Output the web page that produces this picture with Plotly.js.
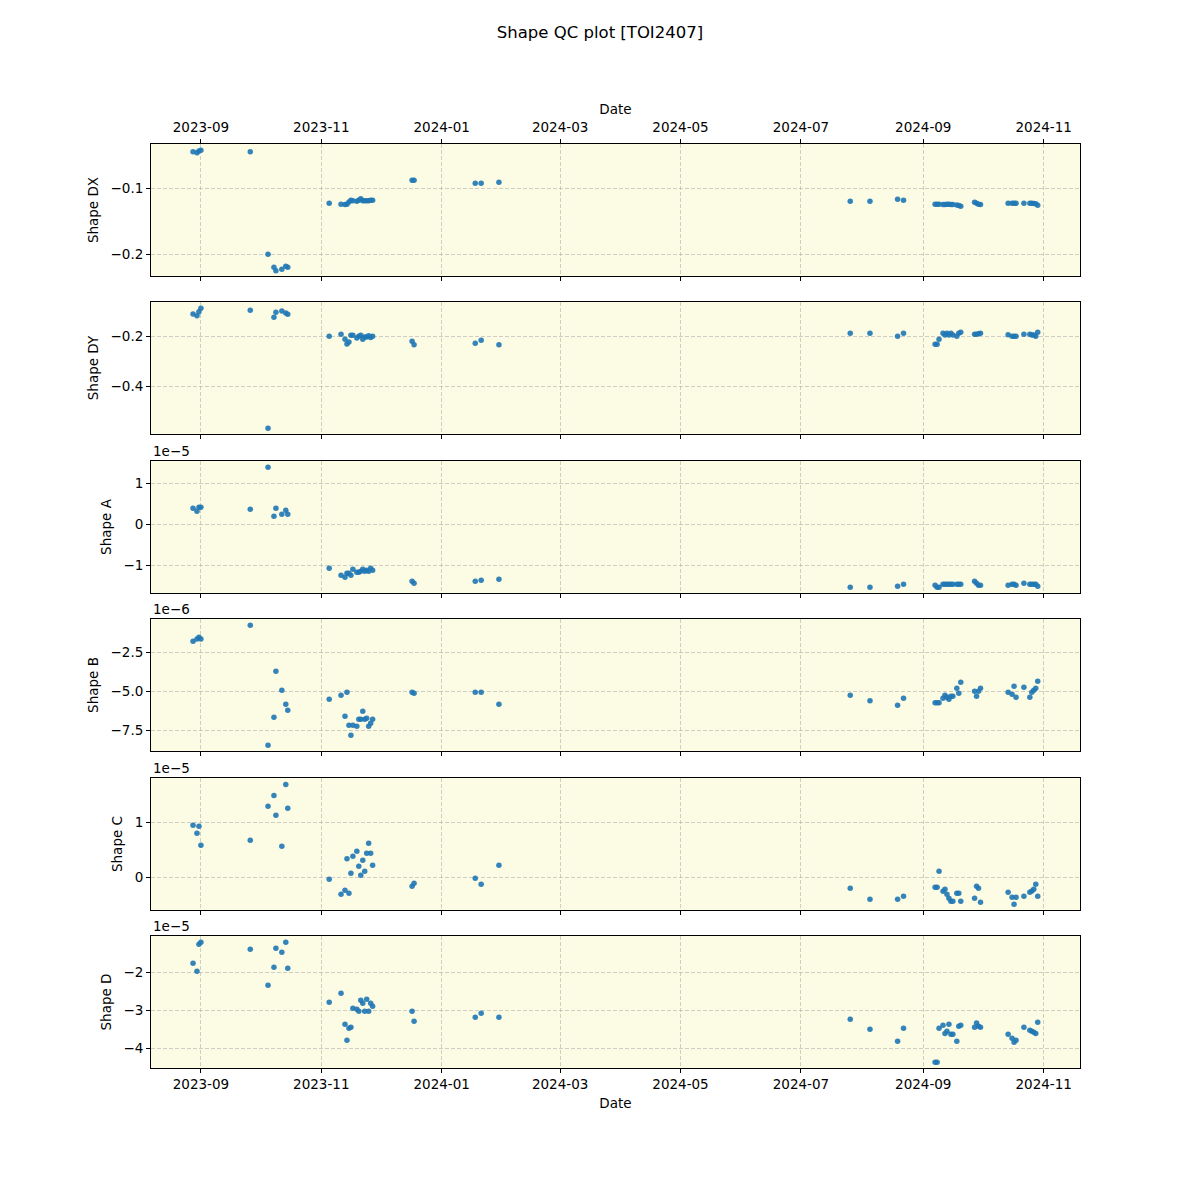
<!DOCTYPE html>
<html>
<head>
<meta charset="utf-8">
<script src="https://cdn.plot.ly/plotly-3.0.1.min.js"></script>
<style>html,body{margin:0;padding:0;background:#fff;}#chart{width:1200px;height:1200px;}</style>
</head>
<body>
<div id="chart"></div>
<script>
// Observation dates (shared by all panels)
const dates = [
'2023-08-28','2023-08-30','2023-08-31','2023-09-01','2023-09-26',
'2023-10-05','2023-10-08','2023-10-09','2023-10-12','2023-10-14','2023-10-15',
'2023-11-05','2023-11-11','2023-11-13','2023-11-14','2023-11-15','2023-11-16','2023-11-17','2023-11-19',
'2023-11-20','2023-11-21','2023-11-22','2023-11-23','2023-11-24','2023-11-25','2023-11-26','2023-11-27',
'2023-12-17','2023-12-18','2024-01-18','2024-01-21','2024-01-30',
'2024-07-26','2024-08-05','2024-08-19','2024-08-22',
'2024-09-07','2024-09-08','2024-09-09','2024-09-11','2024-09-12','2024-09-13','2024-09-14','2024-09-15',
'2024-09-16','2024-09-18','2024-09-19','2024-09-20',
'2024-09-27','2024-09-28','2024-09-29','2024-09-30',
'2024-10-14','2024-10-16','2024-10-17','2024-10-18',
'2024-10-22','2024-10-25','2024-10-26','2024-10-27','2024-10-28','2024-10-29'
];

const shapeDX = [
-0.0445,-0.0461,-0.0435,-0.0424,-0.0445,
-0.200,-0.2197,-0.2248,-0.2227,-0.2182,-0.2197,
-0.1227,-0.1242,-0.1247,-0.1242,-0.1208,-0.1182,-0.1190,-0.1197,-0.1180,-0.1157,-0.1190,-0.1187,-0.1190,-0.1187,-0.1182,-0.1182,
-0.0879,-0.0879,-0.0924,-0.0924,-0.0909,
-0.1197,-0.1197,-0.1167,-0.1182,
-0.1242,-0.1242,-0.1242,-0.1247,-0.1245,-0.1242,-0.1240,-0.1247,-0.1247,-0.1252,-0.1260,-0.1273,
-0.1212,-0.1227,-0.1240,-0.1245,
-0.1227,-0.1227,-0.1227,-0.1227,
-0.1227,-0.1227,-0.1227,-0.1230,-0.1235,-0.1258
];

const shapeDY = [
-0.111,-0.118,-0.102,-0.088,-0.096,
-0.568,-0.124,-0.104,-0.099,-0.107,-0.112,
-0.200,-0.192,-0.212,-0.231,-0.223,-0.196,-0.196,-0.207,-0.200,-0.196,-0.212,-0.203,-0.203,-0.198,-0.205,-0.200,
-0.220,-0.234,-0.228,-0.216,-0.234,
-0.188,-0.188,-0.200,-0.188,
-0.232,-0.232,-0.212,-0.188,-0.195,-0.188,-0.195,-0.188,-0.195,-0.200,-0.188,-0.184,
-0.192,-0.192,-0.190,-0.188,
-0.194,-0.200,-0.200,-0.200,
-0.192,-0.192,-0.195,-0.195,-0.200,-0.184
];

// Shape A, in units of 1e-5
const shapeA = [
0.390,0.317,0.415,0.415,0.366,
1.390,0.195,0.390,0.244,0.341,0.244,
-1.073,-1.244,-1.290,-1.195,-1.195,-1.244,-1.098,-1.170,-1.170,-1.146,-1.098,-1.146,-1.120,-1.146,-1.073,-1.120,
-1.390,-1.440,-1.390,-1.366,-1.340,
-1.537,-1.537,-1.512,-1.463,
-1.488,-1.537,-1.537,-1.463,-1.463,-1.463,-1.463,-1.463,-1.463,-1.463,-1.463,-1.463,
-1.390,-1.440,-1.488,-1.488,
-1.488,-1.463,-1.463,-1.488,
-1.440,-1.463,-1.463,-1.463,-1.463,-1.512
];

// Shape B, in units of 1e-6
const shapeB = [
-1.81,-1.66,-1.55,-1.66,-0.79,
-8.45,-6.66,-3.72,-4.94,-5.83,-6.21,
-5.51,-5.26,-6.60,-5.06,-7.17,-7.81,-7.17,-7.23,-6.79,-6.79,-6.28,-6.79,-6.72,-7.23,-7.04,-6.79,
-5.06,-5.13,-5.06,-5.06,-5.83,
-5.26,-5.60,-5.89,-5.45,
-5.73,-5.73,-5.73,-5.45,-5.26,-5.38,-5.51,-5.32,-5.32,-4.81,-5.13,-4.43,
-5.00,-5.32,-5.00,-4.81,
-5.06,-5.19,-4.68,-5.38,
-4.74,-5.38,-5.06,-4.94,-4.81,-4.36
];

// Shape C, in units of 1e-5
const shapeC = [
0.952,0.806,0.934,0.586,0.678,
1.300,1.500,1.135,0.568,1.700,1.264,
-0.037,-0.311,-0.238,0.341,-0.293,0.073,0.384,0.476,0.201,0.037,0.311,0.110,0.440,0.623,0.440,0.220,
-0.165,-0.110,-0.018,-0.128,0.220,
-0.201,-0.403,-0.403,-0.348,
-0.183,-0.183,0.110,-0.256,-0.220,-0.311,-0.385,-0.440,-0.440,-0.293,-0.293,-0.440,
-0.385,-0.165,-0.201,-0.458,
-0.275,-0.366,-0.495,-0.366,
-0.348,-0.275,-0.250,-0.220,-0.128,-0.348
];

// Shape D, in units of 1e-5
const shapeD = [
-1.758,-1.970,-1.256,-1.203,-1.388,
-2.340,-1.864,-1.362,-1.468,-1.203,-1.890,
-2.790,-2.550,-3.370,-3.790,-3.476,-3.450,-2.947,-2.974,-3.026,-2.736,-2.815,-3.026,-2.710,-3.026,-2.815,-2.894,
-3.026,-3.290,-3.185,-3.080,-3.185,
-3.238,-3.500,-3.820,-3.476,
-4.370,-4.370,-3.476,-3.396,-3.610,-3.555,-3.370,-3.634,-3.634,-3.820,-3.423,-3.396,
-3.450,-3.335,-3.423,-3.450,
-3.634,-3.740,-3.845,-3.790,
-3.450,-3.528,-3.555,-3.580,-3.610,-3.317
];

const panelNames = ['Shape DX','Shape DY','Shape A','Shape B','Shape C','Shape D'];
const panelValues = [shapeDX, shapeDY, shapeA, shapeB, shapeC, shapeD];
const offsetLabels = ['', '', '1e\u22125', '1e\u22126', '1e\u22125', '1e\u22125'];
const yRanges = [[-0.2329,-0.0329],[-0.591,-0.063],[-1.676,1.544],[-8.81,-0.386],[-0.599,1.819],[-4.524,-1.037]];
const yTicks = [[-0.2,-0.1],[-0.4,-0.2],[-1,0,1],[-7.5,-5.0,-2.5],[0,1],[-4,-3,-2]];
const yTickText = [['\u22120.2','\u22120.1'],['\u22120.4','\u22120.2'],['\u22121','0','1'],['\u22127.5','\u22125.0','\u22122.5'],['0','1'],['\u22124','\u22123','\u22122']];
const xRange = ['2023-08-06 17:00','2024-11-19 10:00'];

const domains = [[0.85714,1],[0.68615,0.82900],[0.51407,0.65693],[0.34307,0.48593],[0.17100,0.31385],[0,0.14286]];

const FONT = 'DejaVu Sans, sans-serif';
const gridColor = 'rgba(176,176,176,0.6)';

const traces = [];
const layout = {
  width: 1200, height: 1200,
  margin: {l: 151, r: 120, t: 144, b: 132},
  paper_bgcolor: '#ffffff',
  plot_bgcolor: 'rgb(252,251,227)',
  showlegend: false,
  font: {family: FONT, size: 13.5, color: '#000'},
  title: {text: 'Shape QC plot [TOI2407]', x: 0.5, xref: 'container', y: 1 - 32/1200, yref: 'container', yanchor: 'middle', xanchor: 'center', font: {family: FONT, size: 16.5, color: '#000'}},
  annotations: []
};

for (let i = 0; i < 6; i++) {
  const n = i === 0 ? '' : String(i + 1);
  traces.push({
    type: 'scatter', mode: 'markers',
    x: dates, y: panelValues[i],
    xaxis: 'x' + n, yaxis: 'y' + n,
    marker: {color: '#1f77b4', size: 5.5, opacity: 0.9, line: {width: 0}},
    hoverinfo: 'x+y'
  });
  const xa = {
    type: 'date', range: xRange, domain: [0, 1], anchor: 'y' + n,
    tick0: '2023-09-01', dtick: 'M2', tickformat: '%Y-%m',
    showgrid: true, gridcolor: gridColor, griddash: '4px,2px', gridwidth: 1,
    showline: true, linecolor: '#000', linewidth: 1, mirror: true,
    ticks: 'outside', ticklen: 4, tickcolor: '#000', tickwidth: 1,
    zeroline: false,
    tickfont: {family: FONT, size: 13.5, color: '#000'},
    showticklabels: false
  };
  if (i > 0) xa.matches = 'x';
  if (i === 0) {
    xa.side = 'top';
    xa.showticklabels = true;
    xa.mirror = 'ticks';
    xa.ticklabelstandoff = 2;
    xa.title = {text: 'Date', font: {family: FONT, size: 13.5, color: '#000'}, standoff: 0};
  }
  if (i === 5) {
    xa.showticklabels = true;
    xa.title = {text: 'Date', font: {family: FONT, size: 13.5, color: '#000'}, standoff: 7};
  }
  layout['xaxis' + n] = xa;
  layout['yaxis' + n] = {
    domain: domains[i], anchor: 'x' + n, range: yRanges[i],
    tickvals: yTicks[i], ticktext: yTickText[i],
    showgrid: true, gridcolor: gridColor, griddash: '4px,2px', gridwidth: 1,
    showline: true, linecolor: '#000', linewidth: 1, mirror: true,
    ticks: 'outside', ticklen: 4, tickcolor: '#000', tickwidth: 1,
    zeroline: false,
    tickfont: {family: FONT, size: 13.5, color: '#000'},
    title: {text: panelNames[i], font: {family: FONT, size: 13.5, color: '#000'}, standoff: 8}
  };
  if (offsetLabels[i]) {
    layout.annotations.push({
      text: offsetLabels[i], xref: 'paper', yref: 'paper',
      x: 0, y: domains[i][1], xanchor: 'left', yanchor: 'bottom', yshift: 0,
      showarrow: false, font: {family: FONT, size: 13.5, color: '#000'}
    });
  }
}

Plotly.newPlot('chart', traces, layout, {staticPlot: true, displayModeBar: false});
</script>
</body>
</html>
